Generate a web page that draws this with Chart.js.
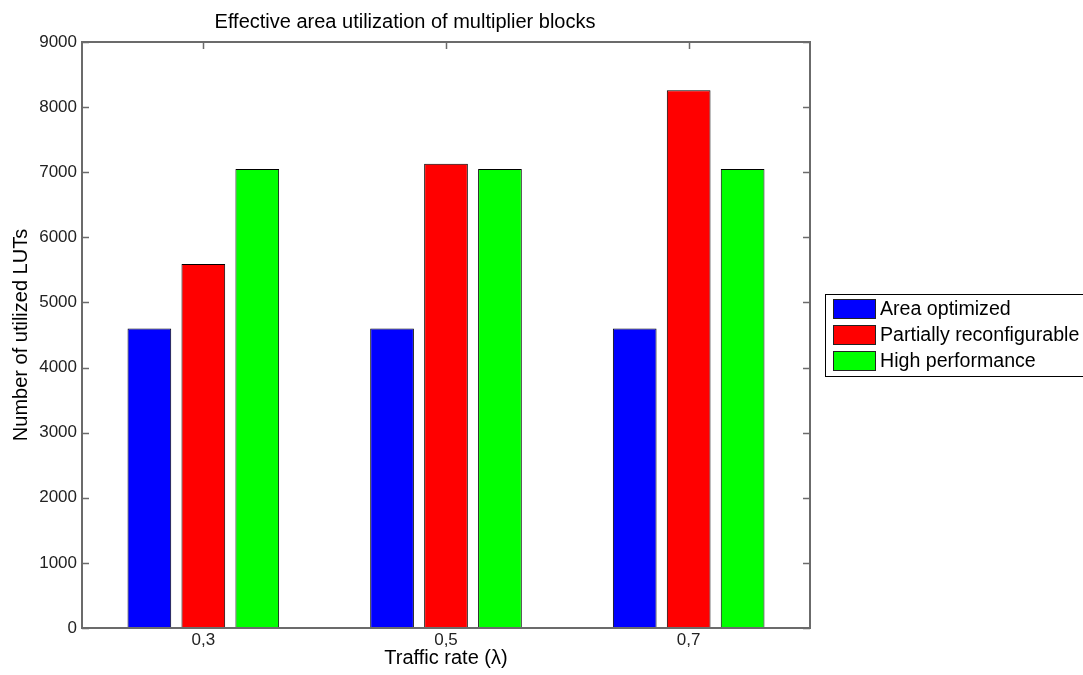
<!DOCTYPE html>
<html>
<head>
<meta charset="utf-8">
<title>Effective area utilization of multiplier blocks</title>
<script src="https://cdn.jsdelivr.net/npm/chart.js@4.4.1/dist/chart.umd.min.js"></script>
<style>
  html, body { margin: 0; padding: 0; background: #ffffff; }
  #wrap { width: 1083px; height: 675px; }
</style>
</head>
<body>
<div id="wrap"><canvas id="chart" width="1083" height="675"></canvas></div>
<script>
// Traffic rates on the x axis
const categories = ['0,3', '0,5', '0,7'];
// LUT counts per implementation
const areaOptimized = [4600, 4600, 4600];
const partiallyReconfigurable = [5590, 7130, 8260];
const highPerformance = [7050, 7050, 7050];
const seriesNames = ['Area optimized', 'Partially reconfigurable', 'High performance'];
const seriesColors = ['#0000ff', '#ff0000', '#00ff00'];
const yMin = 0, yMax = 9000, yStep = 1000;

const FONT = '"Liberation Sans", Arial, Helvetica, sans-serif';
const AXIS_COLOR = '#6b6b6b';

// Boxed axes with inward tick marks on all four sides
const frameTicks = {
  id: 'frameTicks',
  beforeDatasetsDraw(chart) {
    const {ctx, chartArea: a, scales: {x, y}} = chart;
    const len = 7;
    ctx.save();
    ctx.strokeStyle = AXIS_COLOR;
    ctx.lineWidth = 1.5;
    ctx.beginPath();
    y.ticks.forEach(t => {
      const py = Math.round(y.getPixelForValue(t.value)) + 0.5;
      ctx.moveTo(a.left, py); ctx.lineTo(a.left + len, py);
      ctx.moveTo(a.right, py); ctx.lineTo(a.right - len, py);
    });
    categories.forEach((c, i) => {
      const px = Math.round(x.getPixelForValue(i)) + 0.5;
      ctx.moveTo(px, a.top); ctx.lineTo(px, a.top + len);
      ctx.moveTo(px, a.bottom); ctx.lineTo(px, a.bottom - len);
    });
    ctx.stroke();
    ctx.restore();
  },
  afterDatasetsDraw(chart) {
    const {ctx, chartArea: a} = chart;
    ctx.save();
    ctx.strokeStyle = AXIS_COLOR;
    ctx.lineWidth = 2;
    ctx.strokeRect(a.left, a.top, a.right - a.left, a.bottom - a.top);
    ctx.restore();
  }
};

// Boxed legend to the right of the axes
const boxLegend = {
  id: 'boxLegend',
  afterDraw(chart) {
    const {ctx} = chart;
    const bx = 825.5, by = 294.5, bw = 270, bh = 82;
    ctx.save();
    ctx.fillStyle = '#ffffff';
    ctx.fillRect(bx, by, bw, bh);
    ctx.strokeStyle = '#000000';
    ctx.lineWidth = 1;
    ctx.strokeRect(bx, by, bw, bh);
    ctx.font = '19.6px ' + FONT;
    ctx.textBaseline = 'middle';
    ctx.textAlign = 'left';
    chart.data.datasets.forEach((ds, i) => {
      const cy = 309 + i * 26;
      ctx.fillStyle = ds.backgroundColor;
      ctx.fillRect(833, cy - 9.5, 42, 19);
      ctx.strokeStyle = '#222222';
      ctx.strokeRect(833.5, cy - 9.5, 42, 19);
      ctx.fillStyle = '#000000';
      ctx.fillText(ds.label, 880, cy + 1);
    });
    ctx.restore();
  }
};

const datasets = [areaOptimized, partiallyReconfigurable, highPerformance].map((vals, i) => ({
  label: seriesNames[i],
  data: vals,
  backgroundColor: seriesColors[i],
  borderColor: '#000000',
  borderWidth: 1,
  categoryPercentage: 0.667,
  barPercentage: 0.81
}));

new Chart(document.getElementById('chart'), {
  type: 'bar',
  data: { labels: categories, datasets },
  plugins: [frameTicks, boxLegend],
  options: {
    responsive: false,
    animation: false,
    devicePixelRatio: 1,
    layout: { padding: { top: 9, right: 273, left: 0, bottom: 0 } },
    plugins: {
      legend: { display: false },
      tooltip: { enabled: false },
      title: {
        display: true,
        text: 'Effective area utilization of multiplier blocks',
        color: '#000000',
        font: { family: FONT, size: 20, weight: 'normal', lineHeight: 1.2 },
        padding: { top: 1, bottom: 8 }
      }
    },
    scales: {
      x: {
        offset: true,
        grid: { display: false, drawTicks: false },
        border: { display: false },
        ticks: { color: '#222222', font: { family: FONT, size: 17 }, padding: 2 },
        title: {
          display: true,
          text: 'Traffic rate (λ)',
          color: '#000000',
          font: { family: FONT, size: 20 },
          padding: { top: 0, bottom: 5 }
        },
        afterFit(s) { s.height = 47; }
      },
      y: {
        min: yMin,
        max: yMax,
        grid: { display: false, drawTicks: false },
        border: { display: false },
        ticks: {
          stepSize: yStep,
          color: '#222222',
          font: { family: FONT, size: 17 },
          padding: 5,
          callback: v => String(v)
        },
        title: {
          display: true,
          text: 'Number of utilized LUTs',
          color: '#000000',
          font: { family: FONT, size: 20 },
          padding: { top: 9, bottom: 0 }
        },
        afterFit(s) { s.width = 82; }
      }
    }
  }
});
</script>
</body>
</html>
